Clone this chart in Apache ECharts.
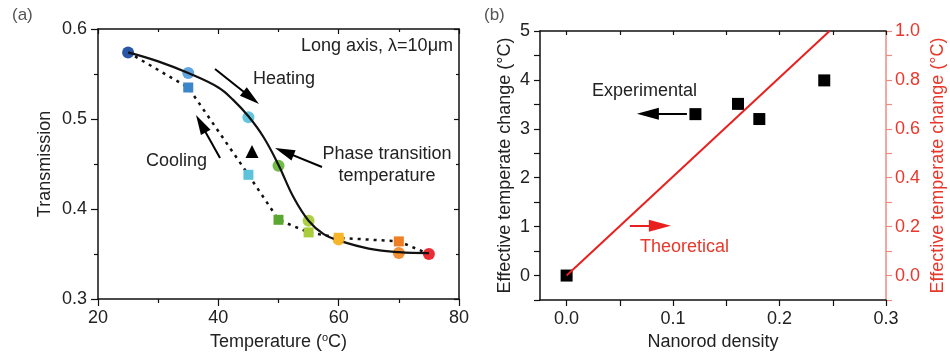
<!DOCTYPE html>
<html>
<head>
<meta charset="utf-8">
<script src="https://cdn.jsdelivr.net/npm/echarts@6/dist/echarts.min.js"></script>
<style>
  html, body { margin: 0; padding: 0; background: #fff; }
  #chart { width: 950px; height: 356px; }
</style>
</head>
<body>
<div id="chart"></div>
<script>
// (a) transmission vs temperature
const heatTemp = [25, 35, 45, 50, 55, 60, 70, 75];
const heatTrans = [0.574, 0.551, 0.502, 0.448, 0.387, 0.366, 0.351, 0.350];
const coolTemp = [25, 35, 45, 50, 55, 60, 70, 75];
const coolTrans = [0.574, 0.535, 0.438, 0.388, 0.374, 0.368, 0.364, 0.350];
// fitted heating curve
const fitTemp = [25, 30, 35, 40, 42.5, 45, 47.5, 50, 52.5, 55, 57.5, 60, 65, 70, 75];
const fitTrans = [0.574, 0.564, 0.551, 0.535, 0.521, 0.503, 0.480, 0.449, 0.413, 0.387, 0.372, 0.365, 0.356, 0.352, 0.351];
const transitionTemp = [45.6];
const transitionTrans = [0.464];

// (b) effective temperature change vs nanorod density
const density = [0, 0.121, 0.161, 0.181, 0.242];
const expChange = [0, 3.3, 3.51, 3.2, 3.99];
const theoDensity = [0, 0.247];
const theoChange = [0, 1.0];

// tick values for panel (b)
const bXLabels = [0, 0.1, 0.2, 0.3];
const bXTicks = [0, 0.05, 0.1, 0.15, 0.2, 0.25, 0.3];
const bYLabels = [0, 1, 2, 3, 4, 5];
const bYTicks = [-0.5, 0, 0.5, 1, 1.5, 2, 2.5, 3, 3.5, 4, 4.5, 5];
const bY2Labels = [0, 0.2, 0.4, 0.6, 0.8, 1.0];
const bY2Ticks = [-0.1, 0, 0.1, 0.2, 0.3, 0.4, 0.5, 0.6, 0.7, 0.8, 0.9, 1.0];

const heatColors = ['#1f4ea0', '#5aa0dc', '#5cc3da', '#6ab73e', '#a8cc3a', '#f7b52a', '#f08a2a', '#e8212a'];
const coolColors = ['#3a86c8', '#5cc3da', '#5aa832', '#a8cc3a', '#f7b52a', '#ef7f22'];

const FONT = 'Liberation Sans, Arial, sans-serif';
const zip = (a, b) => a.map((v, i) => [v, b[i]]);

const chart = echarts.init(document.getElementById('chart'));

const tickStyle = { color: '#111', width: 1.2 };
const lineStyle = { color: '#111', width: 1.5 };

function arrow(x1, y1, x2, y2, color) {
  return [
    { coord: [x1, y1] },
    { coord: [x2, y2], lineStyle: { color: color, width: 2, type: 'solid' } }
  ];
}

const option = {
  animation: false,
  textStyle: { fontFamily: FONT },
  grid: [
    { left: 98, top: 29, width: 361, height: 270 },
    { left: 540, top: 31, width: 346, height: 270 }
  ],
  xAxis: [
    {
      gridIndex: 0, type: 'value', min: 20, max: 80, interval: 20,
      name: 'Temperature ({sup|o}C)', nameLocation: 'middle', nameGap: 33,
      nameTextStyle: { fontSize: 18, color: '#222', fontFamily: FONT,
        rich: { sup: { fontSize: 11, color: '#222', padding: [0, 0, 9, 0], fontFamily: FONT } } },
      axisLine: { onZero: false, lineStyle: lineStyle },
      axisTick: { inside: false, length: 7, lineStyle: tickStyle },
      minorTick: { show: true, splitNumber: 2, length: 4, lineStyle: tickStyle },
      axisLabel: { fontSize: 18, color: '#222', margin: 10 },
      splitLine: { show: false }
    },
    {
      gridIndex: 0, type: 'value', position: 'top', min: 20, max: 80, interval: 20,
      axisLine: { show: true, onZero: false, lineStyle: lineStyle },
      axisTick: { inside: true, length: 5, lineStyle: tickStyle },
      minorTick: { show: true, splitNumber: 2, length: 3, lineStyle: tickStyle },
      axisLabel: { show: false },
      splitLine: { show: false }
    },
    {
      gridIndex: 1, type: 'value', min: -0.025, max: 0.3,
      name: 'Nanorod density', nameLocation: 'middle', nameGap: 33,
      nameTextStyle: { fontSize: 18, color: '#222' },
      axisLine: { onZero: false, lineStyle: lineStyle },
      axisTick: { inside: false, length: 6, customValues: bXTicks, lineStyle: tickStyle },
      axisLabel: { fontSize: 18, color: '#222', margin: 10, customValues: bXLabels,
        formatter: v => v.toFixed(1) },
      splitLine: { show: false }
    },
    {
      gridIndex: 1, type: 'value', position: 'top', min: -0.025, max: 0.3,
      axisLine: { show: true, onZero: false, lineStyle: lineStyle },
      axisTick: { inside: true, length: 4, customValues: bXTicks, lineStyle: tickStyle },
      axisLabel: { show: false },
      splitLine: { show: false }
    }
  ],
  yAxis: [
    {
      gridIndex: 0, type: 'value', min: 0.3, max: 0.6, interval: 0.1,
      name: 'Transmission', nameLocation: 'middle', nameGap: 44,
      nameTextStyle: { fontSize: 18, color: '#222' },
      axisLine: { show: true, onZero: false, lineStyle: lineStyle },
      axisTick: { show: true, inside: false, length: 7, lineStyle: tickStyle },
      minorTick: { show: true, splitNumber: 2, length: 4, lineStyle: tickStyle },
      axisLabel: { fontSize: 18, color: '#222', margin: 11, formatter: v => v.toFixed(1) },
      splitLine: { show: false }
    },
    {
      gridIndex: 0, type: 'value', position: 'right', min: 0.3, max: 0.6, interval: 0.1,
      axisLine: { show: true, onZero: false, lineStyle: lineStyle },
      axisTick: { show: true, inside: true, length: 5, lineStyle: tickStyle },
      minorTick: { show: true, splitNumber: 2, length: 3, lineStyle: tickStyle },
      axisLabel: { show: false },
      splitLine: { show: false }
    },
    {
      gridIndex: 1, type: 'value', min: -0.5, max: 5,
      name: 'Effective temperate change (°C)', nameLocation: 'middle', nameGap: 26,
      nameTextStyle: { fontSize: 18, color: '#222' },
      axisLine: { show: true, onZero: false, lineStyle: lineStyle },
      axisTick: { show: true, inside: false, length: 6, customValues: bYTicks, lineStyle: tickStyle },
      axisLabel: { fontSize: 18, color: '#222', margin: 10, customValues: bYLabels },
      splitLine: { show: false }
    },
    {
      gridIndex: 1, type: 'value', position: 'right', min: -0.1, max: 1.0,
      name: 'Effective temperate change (°C)', nameLocation: 'middle', nameGap: 43,
      nameTextStyle: { fontSize: 18, color: '#e8382c' },
      axisLine: { show: true, onZero: false, lineStyle: { color: '#f08a80', width: 1.5 } },
      axisTick: { show: true, inside: false, length: 6, customValues: bY2Ticks,
        lineStyle: { color: '#f08a80', width: 1.2 } },
      axisLabel: { fontSize: 18, color: '#e8382c', margin: 9, customValues: bY2Labels,
        formatter: v => v.toFixed(1) },
      splitLine: { show: false }
    }
  ],
  graphic: [
    { type: 'text', x: 12, y: 15, style: { text: '(a)', font: '17px ' + FONT, fill: '#555', textVerticalAlign: 'middle' } },
    { type: 'text', x: 484, y: 15, style: { text: '(b)', font: '17px ' + FONT, fill: '#555', textVerticalAlign: 'middle' } },
    { type: 'text', x: 453, y: 46, style: { text: 'Long axis, λ=10μm', font: '18px ' + FONT, fill: '#222', textAlign: 'right', textVerticalAlign: 'middle' } },
    { type: 'text', x: 253, y: 79, style: { text: 'Heating', font: '18px ' + FONT, fill: '#222', textVerticalAlign: 'middle' } },
    { type: 'text', x: 146, y: 161, style: { text: 'Cooling', font: '18px ' + FONT, fill: '#222', textVerticalAlign: 'middle' } },
    { type: 'text', x: 387, y: 154, style: { text: 'Phase transition', font: '18px ' + FONT, fill: '#222', textAlign: 'center', textVerticalAlign: 'middle' } },
    { type: 'text', x: 387, y: 176, style: { text: 'temperature', font: '18px ' + FONT, fill: '#222', textAlign: 'center', textVerticalAlign: 'middle' } },
    { type: 'text', x: 592, y: 91, style: { text: 'Experimental', font: '18px ' + FONT, fill: '#222', textVerticalAlign: 'middle' } },
    { type: 'text', x: 640, y: 247, style: { text: 'Theoretical', font: '18px ' + FONT, fill: '#e8382c', textVerticalAlign: 'middle' } }
  ],
  series: [
    {
      name: 'Cooling', type: 'line', xAxisIndex: 0, yAxisIndex: 0,
      data: zip(coolTemp, coolTrans), showSymbol: false, z: 2,
      lineStyle: { color: '#111', width: 2.5, type: [3, 5] }
    },
    {
      name: 'Heating fit', type: 'line', xAxisIndex: 0, yAxisIndex: 0,
      data: zip(fitTemp, fitTrans), showSymbol: false, z: 3,
      smooth: 0.4,
      lineStyle: { color: '#111', width: 2.2 }
    },
    {
      name: 'Cooling points', type: 'scatter', xAxisIndex: 0, yAxisIndex: 0,
      symbol: 'rect', symbolSize: 10, z: 4,
      data: zip(coolTemp, coolTrans).slice(1, -1).map((p, i) => ({ value: p, itemStyle: { color: coolColors[i], opacity: 1 } }))
    },
    {
      name: 'Heating points', type: 'scatter', xAxisIndex: 0, yAxisIndex: 0,
      symbol: 'circle', symbolSize: 12, z: 2,
      data: zip(heatTemp, heatTrans).map((p, i) => ({ value: p, itemStyle: { color: heatColors[i], opacity: 0.95 } }))
    },
    {
      name: 'Transition', type: 'scatter', xAxisIndex: 0, yAxisIndex: 0,
      symbol: 'triangle', symbolSize: 13, itemStyle: { color: '#000', opacity: 1 },
      data: zip(transitionTemp, transitionTrans),
      markLine: {
        silent: true, symbol: ['none', 'triangle'], symbolSize: [11, 20],
        label: { show: false },
        lineStyle: { color: '#000', width: 2, type: 'solid' },
        data: [
          arrow(39.45, 0.5556, 45.46, 0.5236, '#000'),
          arrow(40.28, 0.4567, 37.10, 0.4948, '#000'),
          arrow(57.23, 0.4467, 50.96, 0.4637, '#000')
        ]
      }
    },
    {
      name: 'Theoretical', type: 'line', xAxisIndex: 2, yAxisIndex: 3,
      data: zip(theoDensity, theoChange), showSymbol: false,
      lineStyle: { color: '#e8211f', width: 2 }
    },
    {
      name: 'Experimental', type: 'scatter', xAxisIndex: 2, yAxisIndex: 2,
      symbol: 'rect', symbolSize: 12, itemStyle: { color: '#000', opacity: 1 },
      data: zip(density, expChange),
      markLine: {
        silent: true, symbol: ['none', 'triangle'], symbolSize: [12, 22],
        label: { show: false },
        lineStyle: { color: '#000', width: 2, type: 'solid' },
        data: [
          arrow(0.1130, 3.306, 0.0763, 3.306, '#000'),
          arrow(0.0594, 1.02, 0.0876, 1.02, '#e8211f')
        ]
      }
    }
  ]
};

chart.setOption(option);
</script>
</body>
</html>
